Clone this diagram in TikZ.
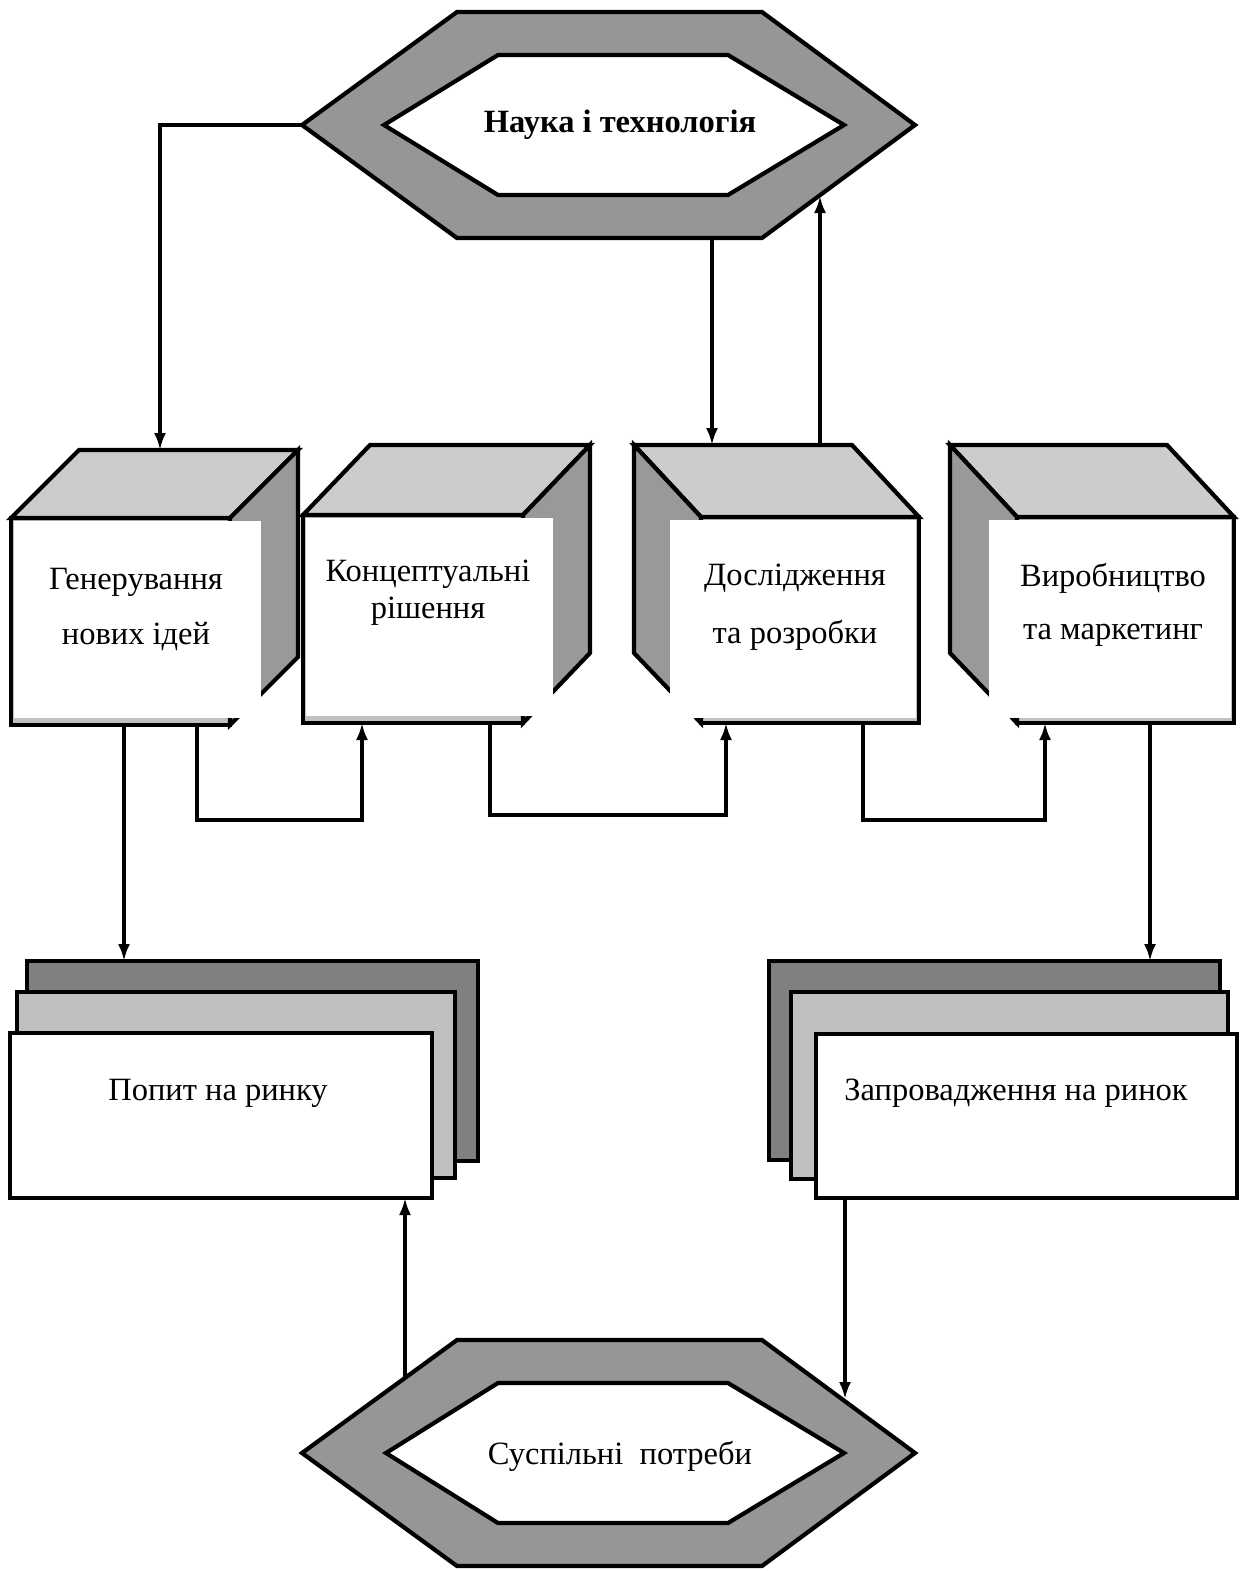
\documentclass[tikz,border=0pt]{standalone}
\usepackage{fontspec}
\setmainfont{Liberation Serif}
\usetikzlibrary{arrows.meta}
\definecolor{hexgray}{HTML}{969696}
\definecolor{topgray}{HTML}{CCCCCC}
\definecolor{sidegray}{HTML}{999999}
\definecolor{backgray}{HTML}{808080}
\definecolor{midgray}{HTML}{C0C0C0}
\begin{document}
\begin{tikzpicture}[x=1pt,y=-1pt,
  outline/.style={draw=black,line width=4.2pt,line join=miter},
  conn/.style={draw=black,line width=3.2pt},
  arr/.style={conn,-{Latex[length=17pt,width=12pt]}},
  lbl/.style={font=\fontsize{32.5}{39}\selectfont,inner sep=0pt},
  tbox/.style={fill=white,draw=none,inner sep=0pt,anchor=north west}]
\useasboundingbox[fill=white] (0,0) rectangle (1242,1571);

% ---------- top hexagon ----------
\draw[outline,fill=hexgray] (302,125)--(457,12)--(762,12)--(915,125)--(762,238)--(457,238)--cycle;
\draw[outline,fill=white] (384,125)--(498,55)--(728,55)--(844,125)--(728,195)--(498,195)--cycle;
\node[lbl,font=\fontsize{32.5}{39}\selectfont\bfseries] (sci) at (620,125) {Наука і технологія};
\coordinate (sciL) at (302,125);
\coordinate (sciB) at (712,238);
\coordinate (sciBR) at (820,196);

% ---------- cube 1 ----------
\draw[outline,fill=midgray] (11,518) rectangle (230,725);
\draw[outline,fill=topgray] (11,518)--(79,450)--(298,450)--(230,518)--cycle;
\draw[outline,fill=sidegray] (230,518)--(298,450)--(298,657)--(230,725)--cycle;
\node[tbox,minimum width=247pt,minimum height=197pt] (w1) at (13.5,521) {};
\node[lbl] (g1a) at (136,582) {Генерування};
\node[lbl] (g1b) at (136,637) {нових ідей};
\coordinate (c1T) at (160,450);
\coordinate (c1Bd) at (124,725);
\coordinate (c1Br) at (197,725);

% ---------- cube 2 ----------
\draw[outline,fill=midgray] (303,515) rectangle (523,723);
\draw[outline,fill=topgray] (303,515)--(370,445)--(590,445)--(523,515)--cycle;
\draw[outline,fill=sidegray] (523,515)--(590,445)--(590,653)--(523,723)--cycle;
\node[tbox,minimum width=247pt,minimum height=198pt] (w2) at (305.5,518) {};
\node[lbl] (g2a) at (428,574) {Концептуальні};
\node[lbl] (g2b) at (428,611) {рішення};
\coordinate (c2Bin) at (362,723);
\coordinate (c2Bout) at (490,723);

% ---------- cube 3 ----------
\draw[outline,fill=midgray] (701,517) rectangle (919,723);
\draw[outline,fill=topgray] (701,517)--(634,445)--(852,445)--(919,517)--cycle;
\draw[outline,fill=sidegray] (701,517)--(634,445)--(634,653)--(701,723)--cycle;
\node[tbox,minimum width=246pt,minimum height=198pt] (w3) at (670,520) {};
\node[lbl] (g3a) at (795,578) {Дослідження};
\node[lbl] (g3b) at (795,635) {та розробки};
\coordinate (c3Tin) at (712,445);
\coordinate (c3Tout) at (820,445);
\coordinate (c3Bin) at (726,723);
\coordinate (c3Bout) at (863,723);

% ---------- cube 4 ----------
\draw[outline,fill=midgray] (1017,517) rectangle (1234,723);
\draw[outline,fill=topgray] (1017,517)--(950,445)--(1167,445)--(1234,517)--cycle;
\draw[outline,fill=sidegray] (1017,517)--(950,445)--(950,653)--(1017,723)--cycle;
\node[tbox,minimum width=242pt,minimum height=198pt] (w4) at (989,520) {};
\node[lbl] (g4a) at (1113,578) {Виробництво};
\node[lbl] (g4b) at (1113,635) {та маркетинг};
\coordinate (c4Bin) at (1045,723);
\coordinate (c4Bout) at (1150,723);

% ---------- left stacked box ----------
\draw[outline,fill=backgray] (27,961) rectangle (478,1161);
\draw[outline,fill=midgray] (17,992) rectangle (455,1178);
\draw[outline,fill=white] (10,1033) rectangle (432,1198);
\node[lbl] (dem) at (218,1093) {Попит на ринку};
\coordinate (demT) at (124,961);
\coordinate (demB) at (405,1198);

% ---------- right stacked box ----------
\draw[outline,fill=backgray] (769,961) rectangle (1220,1160);
\draw[outline,fill=midgray] (791,992) rectangle (1228,1179);
\draw[outline,fill=white] (816,1034) rectangle (1237,1198);
\node[lbl] (intro) at (1016,1093) {Запровадження на ринок};
\coordinate (introT) at (1150,961);
\coordinate (introB) at (845,1198);

% ---------- bottom hexagon ----------
\draw[outline,fill=hexgray] (302,1453)--(457,1340)--(762,1340)--(915,1453)--(762,1566)--(457,1566)--cycle;
\draw[outline,fill=white] (386,1453)--(498,1383)--(728,1383)--(844,1453)--(728,1523)--(498,1523)--cycle;
\node[lbl] (soc) at (620,1456) {Суспільні\ \ потреби};
\coordinate (socTL) at (405,1378);
\coordinate (socTR) at (845,1399);

% ---------- connectors ----------
\draw[arr] (sciL) -| (c1T);
\draw[arr] (sciB) -- (c3Tin);
\draw[arr] (c3Tout) -- (sciBR);
\draw[arr] (c1Bd) -- (demT);
\draw[arr] (c1Br) |- (280,820) -| (c2Bin);
\draw[arr] (c2Bout) |- (600,815) -| (c3Bin);
\draw[arr] (c3Bout) |- (950,820) -| (c4Bin);
\draw[arr] (c4Bout) -- (introT);
\draw[arr] (socTL) -- (demB);
\draw[arr] (introB) -- (socTR);
\end{tikzpicture}
\end{document}
